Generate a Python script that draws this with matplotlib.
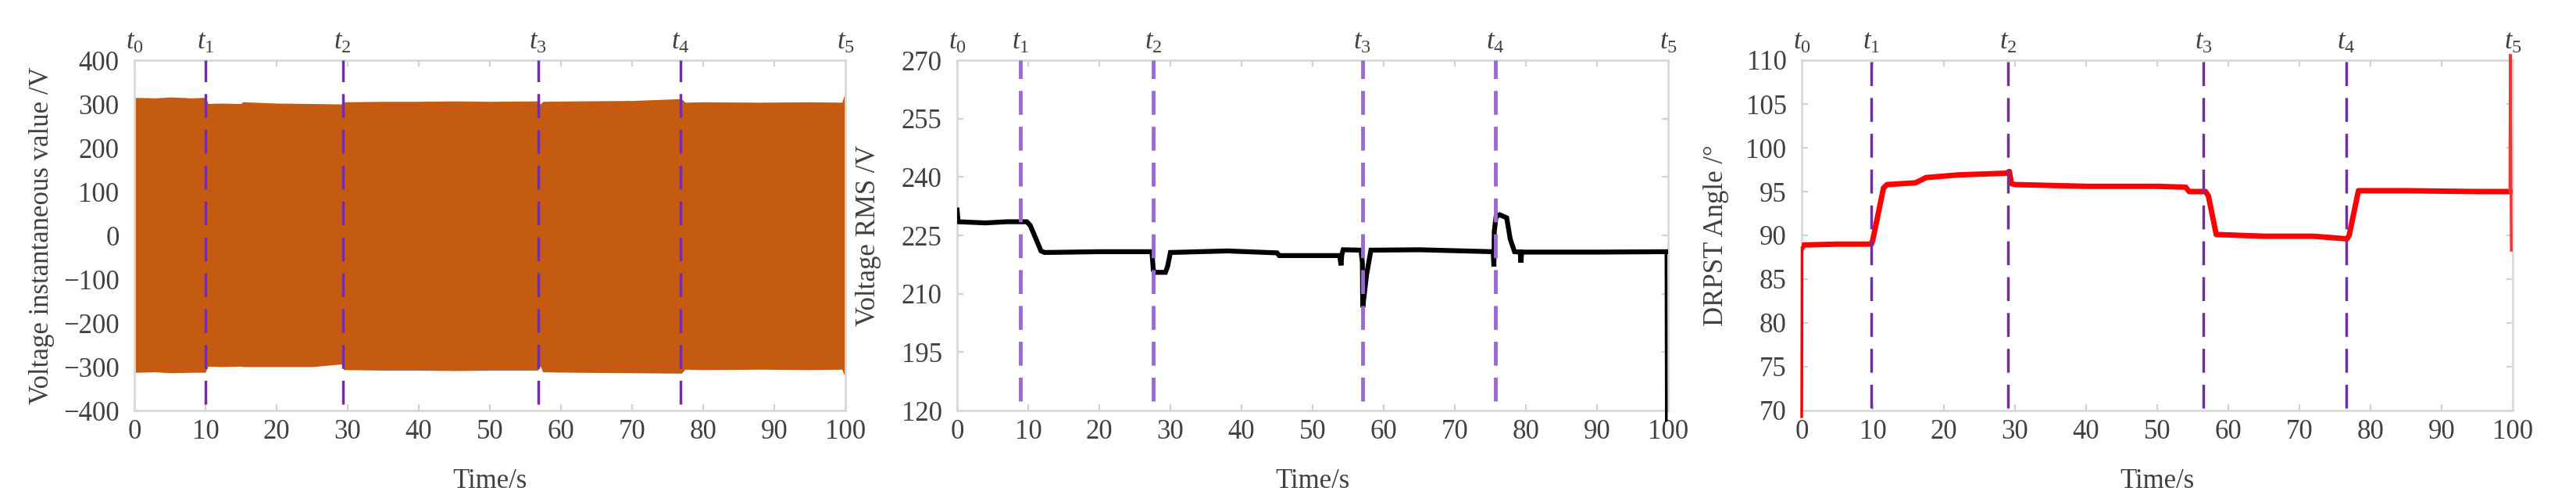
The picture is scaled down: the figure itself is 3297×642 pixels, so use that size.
import numpy as np
import matplotlib
matplotlib.use("Agg")
import matplotlib.pyplot as plt
import matplotlib.transforms as mtransforms

plt.rcParams['font.family'] = ['Liberation Serif', 'DejaVu Serif']
plt.rcParams['mathtext.fontset'] = 'custom'
plt.rcParams['mathtext.rm'] = 'Liberation Serif'
plt.rcParams['mathtext.it'] = 'Liberation Serif:italic'
plt.rcParams['lines.scale_dashes'] = False

# ---- panel 1: instantaneous voltage envelope (V) ----
env_t = [0, 0.2, 3, 5, 8, 9.9, 10.3, 12, 15, 15.3, 20, 25, 29.2, 29.5, 35, 40, 45, 50,
         56.7, 57.1, 57.5, 62, 70, 76.5, 76.9, 77.4, 80, 88, 95, 99.6, 100]
env_hi = [312, 313, 312, 314, 312, 313, 299, 300, 299, 303, 300, 299, 298, 303, 304, 304, 305, 304,
          305, 297, 304, 305, 306, 310, 310, 302, 303, 302, 303, 302, 322]
env_lo = [-311, -311, -310, -312, -311, -311, -297, -298, -297, -298, -298, -298, -292, -305, -306, -306, -307, -306,
          -306, -293, -310, -311, -312, -313, -313, -304, -305, -304, -305, -304, -321]

# ---- panel 2: voltage RMS (V) ----
rms_t = [0, 0.15, 4, 7, 9.8, 10.3, 11.8, 12.3, 20, 27.4, 27.6, 27.9, 29.3, 29.6, 30.0, 38, 45, 45.3,
         53.8, 54.0, 54.1, 54.3, 56.8, 57.0, 57.05, 57.6, 58.2, 65, 75.4, 75.5, 75.55, 75.8, 76.3,
         77.3, 77.8, 78.4, 79.2, 79.3, 79.4, 90, 99.7]
rms_v = [231.5, 228.5, 228.2, 228.5, 228.5, 227.5, 221.0, 220.6, 220.8, 220.8, 216.0, 215.5, 215.5, 217.0,
         220.6, 221.0, 220.5, 219.8, 219.8, 217.3, 220.0, 221.3, 221.2, 218.0, 206.5, 215.0, 221.2, 221.3,
         220.8, 217.0, 226.0, 229.8, 230.3, 229.5, 224.0, 220.8, 220.7, 218.0, 220.7, 220.7, 220.8]
rms_drop_t = [99.7, 99.75]
rms_drop_v = [220.8, 177.5]

# ---- panel 3: DRPST angle (deg) ----
ang_t = [0.05, 0.25, 5, 9.8, 10.0, 11.5, 12, 16, 17.5, 22, 28.8, 29.2, 29.5, 30, 40, 50, 54, 54.5,
         56.8, 57.2, 58.3, 65, 72, 76.7, 77.0, 78.3, 85, 95, 99.6]
ang_v = [88.6, 88.9, 89.0, 89.0, 89.5, 95.4, 95.8, 96.0, 96.6, 96.9, 97.1, 97.3, 95.9, 95.8, 95.6, 95.6,
         95.5, 95.0, 95.0, 94.5, 90.1, 89.9, 89.9, 89.6, 90.0, 95.1, 95.1, 95.0, 95.0]
ang_start_t = [0, 0.05]
ang_start_v = [69.3, 88.6]
ang_end_t = [99.6, 99.65, 99.8]
ang_end_v = [95.0, 110.6, 88.3]

t_marks_1 = [10.0, 29.3, 56.8, 76.8]
t_marks_2 = [8.9, 27.6, 57.0, 75.7]
t_marks_3 = [9.8, 29.0, 56.5, 76.6]
t_labels = [r'$t_0$', r'$t_1$', r'$t_2$', r'$t_3$', r'$t_4$', r'$t_5$']

W, H = 3298, 642
fig = plt.figure(figsize=(W / 100, H / 100), dpi=100)
bottom = 1 - 525 / H
height = (525 - 77) / H
width = 910 / W
lefts = [172 / W, 1225 / W, 2306 / W]
axs = [fig.add_axes([l, bottom, width, height]) for l in lefts]

text_col = '#404040'
fs = 25


def style(ax):
    for s in ax.spines.values():
        s.set_color('#d9d9d9')
        s.set_linewidth(2)
    ax.tick_params(direction='in', length=6, width=1.5, color='#d0d0d0',
                   top=True, right=True, labelsize=fs, labelcolor=text_col)
    ax.tick_params(axis='y', pad=14)
    ax.tick_params(axis='x', pad=8)
    ax.set_xlim(0, 100)
    ax.set_xticks(np.arange(0, 101, 10))
    ax.set_xlabel('Time/s', fontsize=fs, color=text_col)
    ax.xaxis.set_label_coords(0.5, -0.165)


def t_lines(ax, marks, ylo, yhi, color, lw):
    for x in marks:
        ax.plot([x, x], [ylo, yhi], color=color, lw=lw, dashes=(22, 11), zorder=5)
    trans = mtransforms.blended_transform_factory(ax.transData, ax.transAxes)
    for x, lab in zip([0] + marks + [100], t_labels):
        ax.text(x, 1.05, lab, transform=trans, ha='center', va='center',
                fontsize=fs, color=text_col)


# panel 1
ax = axs[0]
style(ax)
ax.fill_between(env_t, env_lo, env_hi, color='#C55A11', lw=1.5, edgecolor='#C55A11', zorder=2)
ax.set_ylim(-400, 400)
ax.set_yticks(np.arange(-400, 401, 100))
ax.set_ylabel('Voltage instantaneous value /V', fontsize=fs, color=text_col)
ax.yaxis.set_label_coords(-0.112, 0.5)
t_lines(ax, t_marks_1, -385, 400, '#7030A0', 2.5)

# panel 2
ax = axs[1]
style(ax)
ax.plot(rms_t, rms_v, color='black', lw=4.5, solid_joinstyle='miter', zorder=3)
ax.plot(rms_drop_t, rms_drop_v, color='black', lw=2.5, clip_on=False, zorder=3)
ax.set_ylim(180, 270)
ax.set_yticks([180, 195, 210, 225, 240, 255, 270])
ax.set_yticklabels(['120', '195', '210', '225', '240', '255', '270'])
ax.set_ylabel('Voltage RMS /V', fontsize=fs, color=text_col)
ax.yaxis.set_label_coords(-0.107, 0.5)
t_lines(ax, t_marks_2, 182.5, 270, '#9B6BC9', 3.5)

# panel 3
ax = axs[2]
style(ax)
ax.plot(ang_t, ang_v, color='#FF0000', lw=5, zorder=3)
ax.plot(ang_start_t, ang_start_v, color='#FF0000', lw=2.5, clip_on=False, zorder=3)
ax.plot(ang_end_t, ang_end_v, color='#FF3030', lw=2.5, clip_on=False, zorder=3)
ax.set_ylim(70, 110)
ax.set_yticks(np.arange(70, 111, 5))
ax.set_ylabel('DRPST Angle /°', fontsize=fs, color=text_col)
ax.yaxis.set_label_coords(-0.102, 0.5)
t_lines(ax, t_marks_3, 70.3, 110, '#7030A0', 2.5)

fig.savefig('out.png', dpi=100, facecolor='white')
